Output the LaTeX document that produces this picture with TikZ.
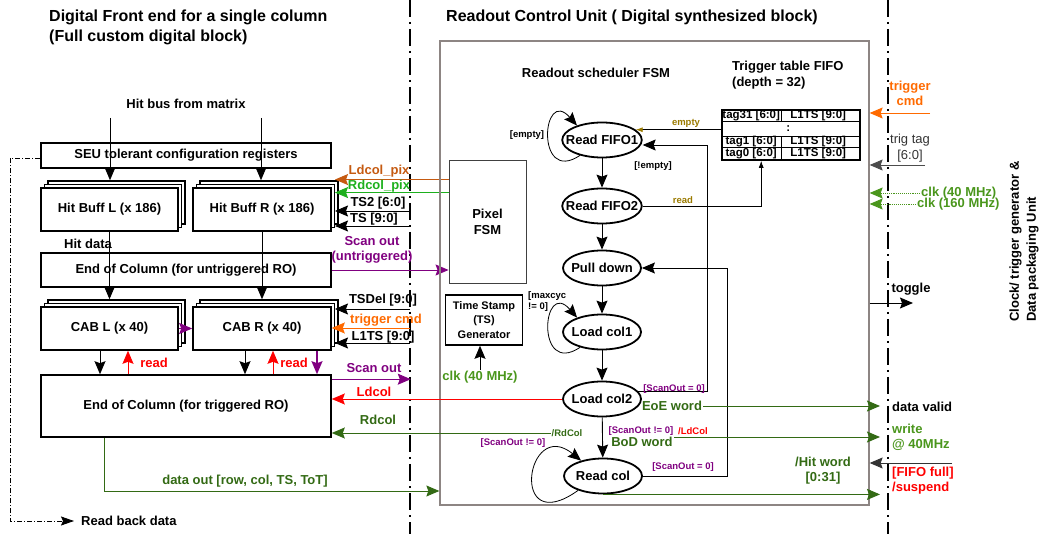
\documentclass[tikz,border=0pt]{standalone}
\usepackage{fontspec}
\setmainfont{Liberation Sans}
\usetikzlibrary{arrows.meta,shapes.geometric,shadows,calc}

\definecolor{pixbrown}{HTML}{C55A11}
\definecolor{pixgreen}{HTML}{1DB01D}
\definecolor{trigorange}{HTML}{FF6A00}
\definecolor{sigpurple}{HTML}{800080}
\definecolor{sigred}{HTML}{FF0000}
\definecolor{dkgreen}{HTML}{336A14}
\definecolor{clkgreen}{HTML}{4A961C}
\definecolor{fifoolive}{HTML}{9A7A00}
\definecolor{rcugray}{HTML}{8D8583}

\begin{document}
\begin{tikzpicture}[x=1pt,y=-1pt,
    lbl/.style={font=\bfseries\fontsize{13}{15}\selectfont,inner sep=1pt},
    note/.style={font=\bfseries\fontsize{9.5}{11}\selectfont,inner sep=1pt},
    cell/.style={font=\bfseries\fontsize{11.5}{12}\selectfont,inner sep=0pt},
    title/.style={font=\bfseries\fontsize{16}{19}\selectfont,inner sep=0pt,anchor=west},
    box/.style={lbl,draw,line width=1.6pt,fill=white},
    stackbox/.style={box,double copy shadow={shadow xshift=3.5pt,shadow yshift=3.5pt,draw=black,fill=white,line width=1.6pt}},
    state/.style={lbl,ellipse,draw,line width=1.8pt,minimum width=78pt,minimum height=35pt,inner xsep=-8pt,inner ysep=0pt},
    sig/.style={line width=0.9pt,-{Stealth[length=13pt,width=11pt,inset=2pt]}},
    fine/.style={line width=0.8pt,-{Latex[length=7pt,width=5pt]}},
    border/.style={line width=2pt,dash pattern=on 17pt off 5pt on 2pt off 5pt},
]
\useasboundingbox (0,0) rectangle (1039,534);

% titles
\node[title] (ttl1) at (49,17) {Digital Front end for a single column};
\node[title] (ttl2) at (49,37) {(Full custom digital block)};
\node[title] (ttl3) at (446,17) {Readout Control Unit ( Digital synthesized block)};

% block borders
\draw[border] (410,0) -- (410,534);
\draw[border] (888,0) -- (888,534);

% front end column
\node[lbl] (bus) at (186,104) {Hit bus from matrix};
\node[box,minimum width=290pt,minimum height=25pt] (seu) at (186,155.5) {SEU tolerant configuration registers};
\node[stackbox,minimum width=137pt,minimum height=43pt] (hbl) at (109.5,209.5) {Hit Buff L (x 186)};
\node[stackbox,minimum width=138pt,minimum height=43pt] (hbr) at (262,209.5) {Hit Buff R (x 186)};
\node[box,minimum width=290pt,minimum height=34pt] (eocu) at (186,270) {End of Column (for untriggered RO)};
\node[stackbox,minimum width=137pt,minimum height=43pt] (cabl) at (109.5,328.5) {CAB L (x 40)};
\node[stackbox,minimum width=138pt,minimum height=43pt] (cabr) at (262,328.5) {CAB R (x 40)};
\node[box,minimum width=290pt,minimum height=62pt] (eoct) at (186,406) {End of Column (for triggered RO)};
\node[lbl] (hitdata) at (88,244) {Hit data};

\coordinate (busL) at (110,118);
\coordinate (busR) at (261,118);
\draw[sig] (busL) -- ($(busL |- hbl.north)+(0,-7)$);
\draw[sig] (busR) -- ($(busR |- hbr.north)+(0,-7)$);
\draw[sig] (hbl.south) -- ($(cabl.north)+(0,-7)$);
\draw[sig] (hbr.south) -- ($(cabr.north)+(0,-7)$);
\draw[sig,sigpurple,line width=1.4pt] (cabl.east) -- (cabr.west);

% CAB <-> triggered end of column
\coordinate (xa) at (100,0);
\coordinate (xb) at (128,0);
\coordinate (xc) at (245,0);
\coordinate (xd) at (273,0);
\coordinate (xe) at (317,0);
\draw[sig] (xa |- cabl.south) -- (xa |- eoct.north);
\draw[sig,sigred] (xb |- eoct.north) -- (xb |- cabl.south);
\draw[sig] (xc |- cabr.south) -- (xc |- eoct.north);
\draw[sig,sigred] (xd |- eoct.north) -- (xd |- cabr.south);
\draw[sig,sigpurple,line width=1.4pt] (xe |- cabr.south) -- (xe |- eoct.north);
\node[lbl,text=sigred] (rdl) at (154,363) {read};
\node[lbl,text=sigred] (rdr) at (294,363) {read};

% signals at the column border
\coordinate (ts2in) at (410,211);
\coordinate (tsin) at (410,226);
\coordinate (tsdin) at (410,309);
\coordinate (tcmdin) at (410,328);
\coordinate (l1in) at (410,343);
\coordinate (shB) at (335,0);

\node[draw=black!75,line width=0.9pt,minimum width=77pt,minimum height=123pt,lbl,align=center,font=\bfseries\fontsize{13}{16}\selectfont] (pix) at (487.5,221.5) {Pixel\\FSM};
\draw[sig,pixbrown] ($(pix.north west)+(0,20)$) -- ($(shB |- pix.north)+(0,20)$);
\draw[sig,pixgreen] ($(pix.north west)+(0,33)$) -- ($(shB |- pix.north)+(0,33)$);
\draw[sig] (ts2in) -- (ts2in -| shB);
\draw[sig] (tsin) -- (tsin -| shB);
\draw[sig,sigpurple] (eocu.east) -- (eocu.east -| pix.west);
\draw[sig] (tsdin) -- (tsdin -| shB);
\draw[sig,trigorange] (tcmdin) -- (tcmdin -| cabr.east);
\draw[sig] (l1in) -- (l1in -| shB);
\draw[sig,sigpurple] ($(eoct.north east)+(0,5)$) -- ($(eoct.north east)+(79,5)$);

\node[lbl,text=pixbrown] (ldpix) at (379,171) {Ldcol\_pix};
\node[lbl,text=pixgreen] (rdpix) at (379,186) {Rdcol\_pix};
\node[lbl] (ts2) at (378,203) {TS2 [6:0]};
\node[lbl] (ts) at (374,219) {TS [9:0]};
\node[lbl,text=sigpurple,align=center] (scanu) at (372,250) {Scan out\\(untriggered)};
\node[lbl] (tsdel) at (383,300) {TSDel [9:0]};
\node[lbl,text=trigorange] (tcmd) at (386,320) {trigger cmd};
\node[lbl] (l1ts) at (383,337) {L1TS [9:0]};
\node[lbl,text=sigpurple] (scant) at (374,368) {Scan out};
\node[lbl,text=sigred] (ldcol) at (374,392) {Ldcol};
\node[lbl,text=dkgreen] (rdcol) at (378,420) {Rdcol};

% readout control unit
\node[draw=rcugray,line width=1.3pt,minimum width=429pt,minimum height=464pt,inner sep=0pt] (rcu) at (654.5,273) {};
\node[lbl] (rsfsm) at (596,73) {Readout scheduler FSM};

\coordinate (dout) at (104,491);
\draw[sig,dkgreen] (dout |- eoct.south) -- (dout) -- (dout -| rcu.west);
\node[lbl,text=dkgreen] (doutl) at (245,481) {data out [row, col, TS, ToT]};

\node[lbl,anchor=west] (rback) at (80,521) {Read back data};
\coordinate (rbc) at (10,521);
\draw[line width=0.8pt,dash pattern=on 5pt off 2pt on 1pt off 2pt,-{Stealth[length=13pt,width=9pt,inset=2pt]}] ($(seu.west)+(0,3)$) -| (rbc) -- ($(rback.west)+(-6,0)$);

% time stamp generator
\node[box,font=\bfseries\fontsize{11}{14.5}\selectfont,align=center,minimum width=77pt,minimum height=50pt] (tsg) at (484,320) {Time Stamp\\(TS)\\Generator};
\node[lbl,text=clkgreen] (tsclk) at (480,377) {clk (40 MHz)};
\draw[sig] (tsclk.north) -- (tsclk.north |- tsg.south);

% scheduler states
\node[state] (f1) at (602,140) {Read FIFO1};
\node[state] (f2) at (602,206) {Read FIFO2};
\node[state] (pd) at (602,268) {Pull down};
\node[state] (lc1) at (602,332) {Load col1};
\node[state] (lc2) at (602,399) {Load col2};
\node[state] (rc) at (603,476) {Read col};

\draw[sig] (f1) -- (f2);
\draw[sig] (f2) -- (pd);
\draw[sig] (pd) -- (lc1);
\draw[sig] (lc1) -- (lc2);
\draw[sig] (lc2) -- (rc);
\draw[sig,line width=0.8pt] (f1.215) .. controls +(-45,30) and +(-35,-40) .. (f1.150);
\draw[sig,line width=0.8pt] (lc1.215) .. controls +(-45,30) and +(-35,-40) .. (lc1.150);
\draw[sig,line width=0.8pt] (rc.210) .. controls +(-70,50) and +(-55,-45) .. (rc.145);

\coordinate (upA) at (707,145);
\coordinate (upB) at (727,268);
\draw[sig] (lc2.12) -| (upA) -- (upA -| f1.east);
\draw[sig] (rc.east) -| (upB) -- (pd.east);

\node[note] (nempty) at (527,135) {[empty]};
\node[note] (nnempty) at (653,166) {[!empty]};
\node[note,align=left,anchor=west] (nmax) at (527,302) {[maxcyc\\!= 0]};
\node[note,text=sigpurple] (nso1) at (513,443) {[ScanOut != 0]};
\node[note,text=dkgreen] (rdcl) at (567,433) {/RdCol};
\node[note,text=sigpurple] (nso2) at (674,389) {[ScanOut = 0]};
\node[note,text=sigpurple] (nso3) at (683,467) {[ScanOut = 0]};
\node[note,text=sigpurple] (nso4) at (641,431) {[ScanOut != 0]};
\node[note,text=sigred] (ldcl) at (693,431) {/LdCol};
\node[lbl,text=dkgreen] (eoe) at (672,406) {EoE word};
\node[lbl,text=dkgreen] (bod) at (642,442) {BoD word};

\draw[sig,sigred] (lc2.west) -- (lc2.west -| eoct.east);
\draw[sig,dkgreen] (rdcl.west) -- (rdcl.west -| eoct.east);

% trigger table
\node[lbl,align=left,anchor=west,font=\bfseries\fontsize{13}{16}\selectfont] (tfifo) at (731,75) {Trigger table FIFO\\(depth = 32)};
\node[draw,line width=1.6pt,minimum width=138pt,minimum height=50pt,inner sep=0pt] (fifo) at (791,135) {};
\foreach \dy in {12,27,38}
  \draw[line width=1.1pt] ($(fifo.north west)+(0,\dy)$) -- ($(fifo.north east)+(0,\dy)$);
\draw[line width=1.1pt] ($(fifo.north west)+(60,0)$) -- ++(0,12);
\draw[line width=1.1pt] ($(fifo.north west)+(60,27)$) -- ++(0,23);
\node[cell] (t31) at ($(fifo.north west)+(30,6)$) {tag31 [6:0]};
\node[cell] (l31) at ($(fifo.north west)+(97,6.5)$) {L1TS [9:0]};
\node[cell] (dots) at ($(fifo.north west)+(67,19.5)$) {:};
\node[cell] (t1) at ($(fifo.north west)+(30,32.5)$) {tag1 [6:0]};
\node[cell] (l1) at ($(fifo.north west)+(97,32.5)$) {L1TS [9:0]};
\node[cell] (t0) at ($(fifo.north west)+(30,44)$) {tag0 [6:0]};
\node[cell] (l0) at ($(fifo.north west)+(97,44)$) {L1TS [9:0]};

\draw[line width=0.8pt,-{Latex[length=7pt,width=5pt,color=fifoolive]}] (fifo.west |- f1.17) -- (f1.17);
\draw[fine] (f2.east) -| ($(fifo.south west)+(40,0)$);
\node[note,text=fifoolive] (nemp) at (686,123) {empty};
\node[note,text=fifoolive] (nread) at (683,200) {read};

% outputs to packaging unit
\coordinate (outR) at (880,0);
\node[lbl,anchor=west] (dv) at (891,407) {data valid};
\node[lbl,anchor=west,align=left,text=clkgreen] (wr) at (891,437) {write\\@ 40MHz};
\node[lbl,anchor=west,align=left,text=sigred] (ff) at (891,481) {[FIFO full]\\/suspend};
\node[lbl,align=center,text=dkgreen] (hw) at (823,471) {/Hit word\\{}[0:31]};
\draw[sig,dkgreen] (eoe.east) -- (eoe.east -| outR);
\draw[sig,dkgreen] ($(bod.east)+(0,-5)$) -- ($(bod.east -| outR)+(0,-5)$);
\draw[sig,dkgreen] (rc.south) -- (rc.south -| outR);
\coordinate (ffin) at (952,463);
\draw[sig,black!80] (ffin) -- (ffin -| rcu.east);

\node[lbl] (tg) at (911,289) {toggle};
\coordinate (tgtip) at (913,303);
\draw[sig] (tgtip -| rcu.east) -- (tgtip);

% inputs from clock / trigger unit
\node[lbl,align=center,text=trigorange] (tcmdr) at (910,93) {trigger\\cmd};
\coordinate (tcin) at (930,113);
\draw[sig,trigorange] (tcin) -- (tcin -| rcu.east);
\node[align=center,inner sep=1pt,font=\fontsize{13}{16}\selectfont,text=black!80] (ttag) at (910,148) {trig tag\\{}[6:0]};
\coordinate (ttin) at (925,165);
\draw[sig,black!70] (ttin) -- (ttin -| rcu.east);
\node[lbl,anchor=west,text=clkgreen] (clk40) at (920,193) {clk (40 MHz)};
\node[lbl,anchor=west,text=clkgreen] (clk160) at (916,204) {clk (160 MHz)};
\draw[sig,clkgreen,densely dotted] (clk40.west) -- (clk40.west -| rcu.east);
\draw[sig,clkgreen,densely dotted] (clk160.west) -- (clk160.west -| rcu.east);

\node[lbl,rotate=90,anchor=west,align=left,font=\bfseries\fontsize{13}{17}\selectfont] (cgen) at (1024,323) {Clock/ trigger generator \&\\Data packaging Unit};
\end{tikzpicture}
\end{document}
